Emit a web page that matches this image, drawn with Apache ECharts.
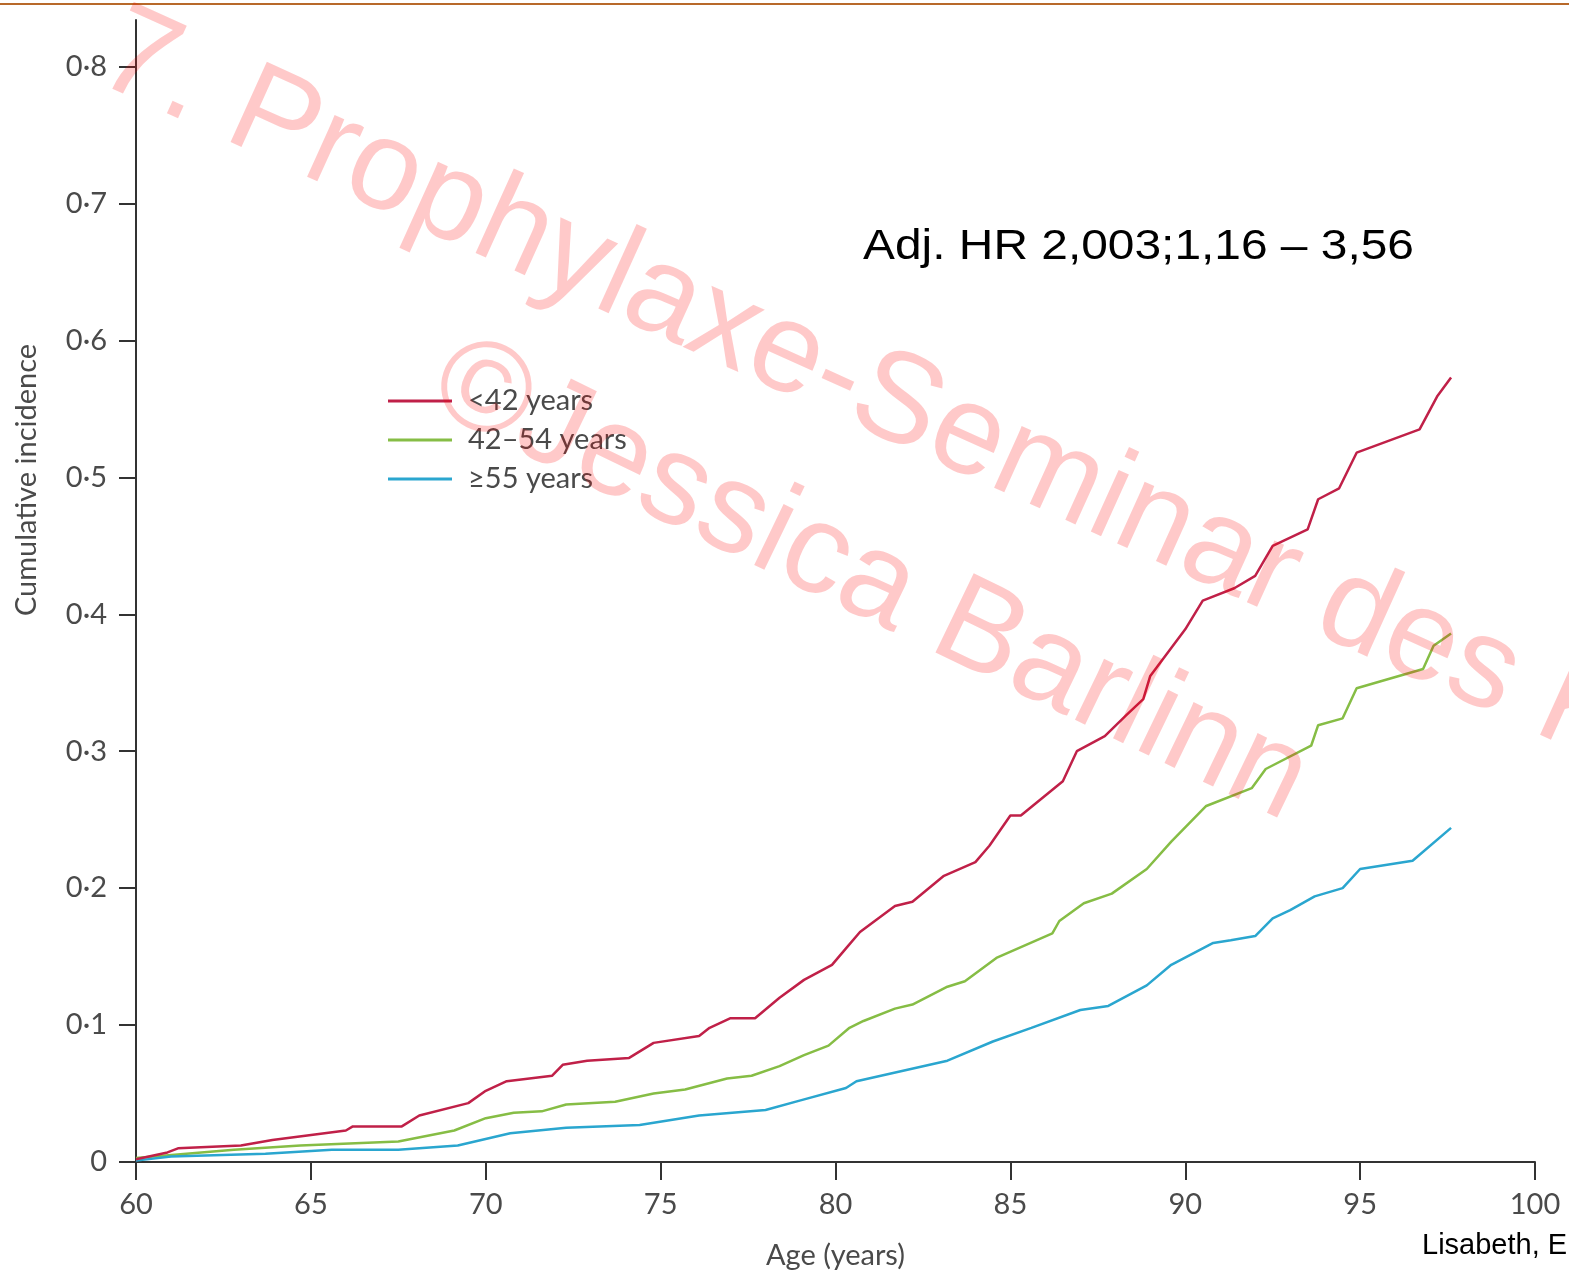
<!DOCTYPE html>
<html>
<head>
<meta charset="utf-8">
<script src="https://cdn.jsdelivr.net/npm/echarts@6/dist/echarts.min.js"></script>
<style>
html,body{margin:0;padding:0;background:#fff;}
#chart{width:1569px;height:1275px;}
</style>
</head>
<body>
<div id="chart"></div>
<script>
// ---- data ----
const seriesNames = ['<42 years', '42\u201354 years', '\u226555 years'];

const redAge = [60, 60.9, 61.2, 63.0, 63.9, 66.0, 66.2, 67.6, 68.1, 69.5, 70.0, 70.6, 71.9, 72.2, 72.9, 74.1, 74.8, 76.1, 76.4, 77.0, 77.7, 78.4, 79.1, 79.9, 80.3, 80.7, 81.7, 82.2, 83.1, 84.0, 84.4, 85.0, 85.3, 86.5, 86.9, 87.7, 88.3, 88.8, 89.0, 90.0, 90.5, 91.4, 92.0, 92.5, 93.5, 93.8, 94.4, 94.9, 96.7, 97.2, 97.6];
const redVal = [0.002, 0.007, 0.010, 0.012, 0.016, 0.023, 0.026, 0.026, 0.034, 0.043, 0.052, 0.059, 0.063, 0.071, 0.074, 0.076, 0.087, 0.092, 0.098, 0.105, 0.105, 0.120, 0.133, 0.144, 0.156, 0.168, 0.187, 0.190, 0.209, 0.219, 0.231, 0.253, 0.253, 0.278, 0.300, 0.311, 0.326, 0.338, 0.355, 0.389, 0.410, 0.419, 0.428, 0.450, 0.462, 0.484, 0.492, 0.518, 0.535, 0.559, 0.573];

const greenAge = [60, 62.8, 64.7, 67.5, 69.1, 70.0, 70.8, 71.6, 72.3, 73.7, 74.8, 75.7, 76.9, 77.6, 78.4, 79.1, 79.8, 80.4, 80.8, 81.7, 82.2, 83.2, 83.7, 84.6, 86.2, 86.4, 87.1, 87.9, 88.9, 89.6, 90.6, 91.9, 92.3, 93.6, 93.8, 94.5, 94.9, 96.8, 97.1, 97.6];
const greenVal = [0.003, 0.009, 0.012, 0.015, 0.023, 0.032, 0.036, 0.037, 0.042, 0.044, 0.050, 0.053, 0.061, 0.063, 0.070, 0.078, 0.085, 0.098, 0.103, 0.112, 0.115, 0.128, 0.132, 0.149, 0.167, 0.176, 0.189, 0.196, 0.214, 0.234, 0.260, 0.273, 0.287, 0.304, 0.319, 0.324, 0.346, 0.360, 0.377, 0.386];

const blueAge = [60, 61, 63.7, 65.6, 67.5, 69.2, 70.7, 72.3, 74.4, 76.1, 78.0, 79.0, 80.3, 80.6, 83.2, 84.5, 85.6, 87.0, 87.8, 88.9, 89.6, 90.8, 91.3, 92.0, 92.5, 93.0, 93.7, 94.5, 95.0, 96.5, 97.6];
const blueVal = [0.001, 0.004, 0.006, 0.009, 0.009, 0.012, 0.021, 0.025, 0.027, 0.034, 0.038, 0.045, 0.054, 0.059, 0.074, 0.088, 0.098, 0.111, 0.114, 0.129, 0.144, 0.160, 0.162, 0.165, 0.178, 0.184, 0.194, 0.200, 0.214, 0.220, 0.244];

const xTicks = [60, 65, 70, 75, 80, 85, 90, 95, 100];
const yTicks = [0, 0.1, 0.2, 0.3, 0.4, 0.5, 0.6, 0.7, 0.8];

const annotation = 'Adj. HR 2,003;1,16 \u2013 3,56';
const sourceText = 'Lisabeth, E';
const watermark1 = '7. Prophylaxe-Seminar des K';
const watermark2 = '\u00A9Jessica Barlinn';
// ---------------------------------------

function pairs(a, v) { return a.map((x, i) => [x, v[i]]); }

const chart = echarts.init(document.getElementById('chart'));
const labelFont = 'Lato';
const labelColor = '#4a4a4a';

chart.setOption({
  backgroundColor: '#ffffff',
  animation: false,
  grid: { left: 136, right: 34, top: 20, bottom: 111, containLabel: false },
  xAxis: {
    type: 'value', min: 60, max: 100, interval: 5,
    name: 'Age (years)', nameLocation: 'middle', nameGap: 79,
    nameTextStyle: { fontFamily: labelFont, fontSize: 29, color: labelColor },
    axisLine: { show: true, lineStyle: { color: '#333', width: 2 } },
    axisTick: { show: true, length: 18, lineStyle: { color: '#333', width: 2 }, customValues: xTicks },
    axisLabel: { margin: 28, fontFamily: labelFont, fontSize: 29, color: labelColor, customValues: xTicks },
    splitLine: { show: false }
  },
  yAxis: {
    type: 'value', min: 0, max: 0.834,
    axisLine: { show: true, lineStyle: { color: '#333', width: 2 } },
    axisTick: { show: true, length: 17, lineStyle: { color: '#333', width: 2 }, customValues: yTicks },
    axisLabel: {
      margin: 29, fontFamily: labelFont, fontSize: 29, color: labelColor, customValues: yTicks,
      formatter: v => (Math.abs(v) < 1e-9 ? '0' : v.toFixed(1).replace('.', '\u00B7'))
    },
    splitLine: { show: false }
  },
  legend: {
    orient: 'vertical', left: 388, top: 386, padding: 0,
    icon: 'rect', itemWidth: 64, itemHeight: 3, itemGap: 9,
    textStyle: { fontFamily: labelFont, fontSize: 29, color: labelColor, lineHeight: 30, padding: [0, 0, 0, 11] },
    data: seriesNames
  },
  series: [
    { name: seriesNames[0], type: 'line', data: pairs(redAge, redVal), showSymbol: false, symbol: 'none',
      lineStyle: { color: '#c02048', width: 2.5 }, itemStyle: { color: '#c02048' }, z: 3 },
    { name: seriesNames[1], type: 'line', data: pairs(greenAge, greenVal), showSymbol: false, symbol: 'none',
      lineStyle: { color: '#86bd45', width: 2.5 }, itemStyle: { color: '#86bd45' }, z: 2 },
    { name: seriesNames[2], type: 'line', data: pairs(blueAge, blueVal), showSymbol: false, symbol: 'none',
      lineStyle: { color: '#2aa6cf', width: 2.5 }, itemStyle: { color: '#2aa6cf' }, z: 2 }
  ],
  graphic: [
    { type: 'rect', left: 0, top: 3, shape: { width: 1569, height: 2 }, style: { fill: '#b8692a' }, z: 10 },
    { type: 'text', x: 27, y: 480, rotation: Math.PI / 2,
      style: { text: 'Cumulative incidence', fontFamily: labelFont, fontSize: 29, fill: labelColor, align: 'center', verticalAlign: 'middle' } },
    { type: 'text', x: 863, y: 247, scaleX: 1.14,
      style: { text: annotation, fontFamily: 'Liberation Sans', fontSize: 42, fill: '#000', align: 'left', verticalAlign: 'middle' } },
    { type: 'text', x: 1422, y: 1246,
      style: { text: sourceText, fontFamily: 'Liberation Sans', fontSize: 29, fill: '#000', align: 'left', verticalAlign: 'middle' } },
    { type: 'text', x: 106, y: 47, rotation: -0.425, z: 20,
      style: { text: watermark1, fontFamily: 'Liberation Sans', fontSize: 128, fill: 'rgba(255,0,0,0.21)', align: 'left', verticalAlign: 'middle' } },
    { type: 'text', x: 440, y: 374, rotation: -0.45, z: 20,
      style: { text: watermark2, fontFamily: 'Liberation Sans', fontSize: 128, fill: 'rgba(255,0,0,0.21)', align: 'left', verticalAlign: 'middle' } }
  ]
});
</script>
</body>
</html>
